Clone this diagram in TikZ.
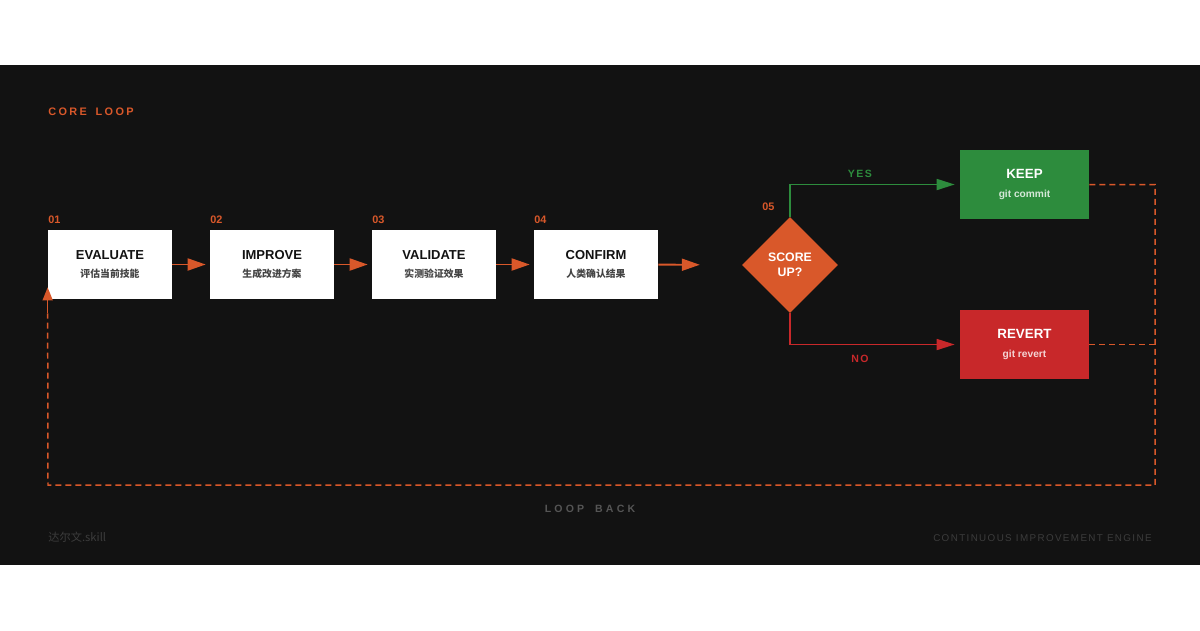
\documentclass[tikz,border=0pt]{standalone}
\usepackage{fontspec}
\setmainfont{Liberation Sans}
\newfontfamily\cjk{Noto Sans CJK SC}
\newfontfamily\trackwide[LetterSpace=30, WordSpace=1.8]{Liberation Sans}
\newfontfamily\tracktitle[LetterSpace=22, WordSpace=1.6]{Liberation Sans}
\newfontfamily\tracknarrow[LetterSpace=14]{Liberation Sans}
\usetikzlibrary{positioning,calc,arrows.meta,shapes.geometric}
\definecolor{bgdark}{HTML}{121212}
\definecolor{loorange}{HTML}{D9582A}
\definecolor{logreen}{HTML}{2D8C3D}
\definecolor{lored}{HTML}{C8282A}
\definecolor{subgray}{HTML}{444444}
\definecolor{dimgray}{HTML}{555555}
\definecolor{faintgray}{HTML}{3C3C3C}

\begin{document}
\begin{tikzpicture}[x=0.02cm, y=-0.02cm,
  stage/.style={fill=white, minimum width=2.48cm, minimum height=1.38cm,
                inner sep=0pt, align=center, text=black!93,
                font=\fontsize{7.4}{10}\selectfont},
  outcome/.style={minimum width=2.58cm, minimum height=1.38cm,
                  inner sep=0pt, align=center, text=white,
                  font=\fontsize{7.6}{10.5}\selectfont},
  decide/.style={diamond, fill=loorange, minimum width=1.92cm,
                 minimum height=1.92cm, inner sep=0pt, align=center,
                 text=white, font=\fontsize{7}{8.6}\selectfont\bfseries},
  num/.style={anchor=base west, inner sep=0pt, text=loorange,
              font=\fontsize{6.2}{7}\selectfont\bfseries},
  flow/.style={line width=1.1pt, loorange,
               -{Triangle[length=0.36cm, width=0.24cm]}},
  yes/.style={line width=1pt, logreen,
              -{Triangle[length=0.36cm, width=0.22cm]}},
  no/.style={line width=1pt, lored,
             -{Triangle[length=0.36cm, width=0.22cm]}},
  back/.style={line width=0.85pt, loorange, dash pattern=on 0.12cm off 0.08cm},
  branch/.style={inner sep=0pt, font=\tracknarrow\fontsize{6}{7}\selectfont\bfseries},
]
% page and dark band
\useasboundingbox (0,0) rectangle (1200,630);
\fill[white] (0,0) rectangle (1200,630);
\fill[bgdark] (0,65) rectangle (1200,565);

% heading
\node[anchor=base west, inner sep=0pt, text=loorange,
      font=\tracktitle\fontsize{6.2}{7}\selectfont\bfseries] (head) at (48,115) {CORE LOOP};

% Row of stages
\node[stage] (evaluate) at (110,264.5)
  {\bfseries EVALUATE\\{\cjk\bfseries\fontsize{5.6}{7}\selectfont\color{subgray}评估当前技能}};
\node[stage] (improve) at (272,264.5)
  {\bfseries IMPROVE\\{\cjk\bfseries\fontsize{5.6}{7}\selectfont\color{subgray}生成改进方案}};
\node[stage] (validate) at (434,264.5)
  {\bfseries VALIDATE\\{\cjk\bfseries\fontsize{5.6}{7}\selectfont\color{subgray}实测验证效果}};
\node[stage] (confirm) at (596,264.5)
  {\bfseries CONFIRM\\{\cjk\bfseries\fontsize{5.6}{7}\selectfont\color{subgray}人类确认结果}};

% step numbers
\node[num] (n1) at (48,223) {01};
\node[num] (n2) at (210,223) {02};
\node[num] (n3) at (372,223) {03};
\node[num] (n4) at (534,223) {04};

% decision
\node[decide] (score) at (790,265) {SCORE\\UP?};
\node[num] (n5) at (762,210) {05};

% outcomes
\node[outcome, fill=logreen] (keep) at (1024.5,184.5)
  {\bfseries KEEP\\{\fontsize{5.8}{7}\selectfont\bfseries\color{white!80!logreen}git commit}};
\node[outcome, fill=lored] (revert) at (1024.5,344.5)
  {\bfseries REVERT\\{\fontsize{5.8}{7}\selectfont\bfseries\color{white!80!lored}git revert}};

% forward arrows
\draw[flow, shorten >=0.08cm] (evaluate) -- (improve);
\draw[flow, shorten >=0.08cm] (improve) -- (validate);
\draw[flow, shorten >=0.08cm] (validate) -- (confirm);
\draw[flow, shorten >=0.84cm] (confirm) -- (score);

% branches
\draw[yes, shorten >=0.1cm] (score.north) |- (keep.west);
\draw[no, shorten >=0.1cm] (score.south) |- (revert.west);
\node[branch, text=logreen] (yeslbl) at (860,174) {YES};
\node[branch, text=lored] (nolbl) at (860,359) {NO};

% loop back
\coordinate (loopR) at (1155,485);
\coordinate (loopL) at (48,485);
\coordinate (tipE) at ($(evaluate.south west)+(0,-12)$);
\draw[back] (keep.east) -| (loopR) -- (loopL) -- ($(evaluate.south west)+(0,14)$);
\draw[back] (revert.east) -- (revert.east -| loopR);
\draw[line width=0.85pt, loorange, -{Triangle[length=0.26cm, width=0.2cm]}]
  ($(evaluate.south west)+(0,14)$) -- (tipE);
\node[inner sep=0pt, text=dimgray,
      font=\trackwide\fontsize{6}{7}\selectfont\bfseries] (loopback) at (590,509) {LOOP BACK};

% footer
\node[anchor=base west, inner sep=0pt, text=faintgray,
      font=\cjk\fontsize{6.4}{7}\selectfont] (brand) at (48,541) {达尔文.skill};
\node[anchor=base east, inner sep=0pt, text=faintgray,
      font=\tracknarrow\fontsize{5.6}{7}\selectfont] (engine) at (1152,541) {CONTINUOUS IMPROVEMENT ENGINE};
\end{tikzpicture}
\end{document}
